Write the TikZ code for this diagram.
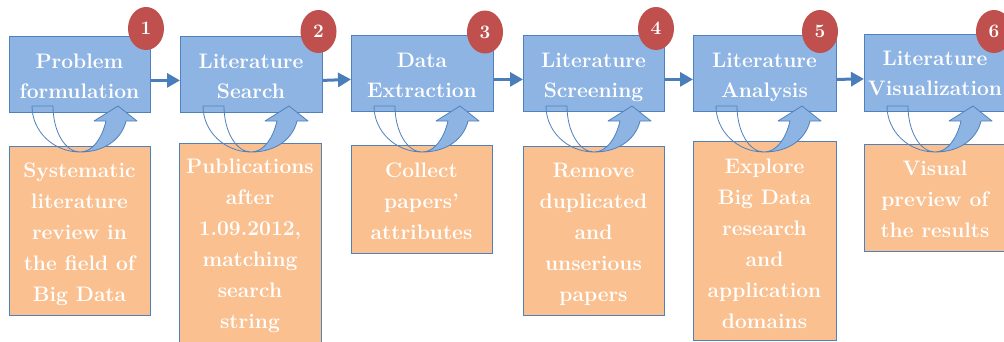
\documentclass[tikz,border=0pt]{standalone}
\usetikzlibrary{arrows.meta,shapes.geometric}
\definecolor{boxblue}{HTML}{8EB4E3}
\definecolor{edgeblue}{HTML}{4F81BD}
\definecolor{arrowblue}{HTML}{4A7EBB}
\definecolor{numred}{HTML}{C0504D}
\definecolor{boxorange}{HTML}{FAC090}
\tikzset{
 stagebox/.style={draw=edgeblue, fill=boxblue, line width=0.8pt, anchor=north west, inner sep=0pt},
 notebox/.style={draw=edgeblue, fill=boxorange, line width=0.8pt, anchor=north west, inner sep=0pt},
 stagetext/.style={anchor=north, inner sep=0pt, align=center, text=white, font=\fontsize{21}{30}\selectfont\bfseries},
 notetext/.style={anchor=north, inner sep=0pt, align=center, text=white, font=\fontsize{21}{31}\selectfont\bfseries},
 numbadge/.style={ellipse, fill=numred, minimum width=36pt, minimum height=43pt, inner sep=0pt, text=white, font=\fontsize{19}{19}\selectfont\bfseries},
 flowarrow/.style={draw=arrowblue, line width=3pt, -{Triangle[length=13pt,width=14pt]}},
 uturnline/.style={draw=edgeblue, line width=0.8pt},
 uturnfill/.style={draw=edgeblue, fill=boxblue, line width=0.8pt, line join=round}
}
\newcommand\uturnarrow[1]{%
 \draw[uturnline] ({#1+71},152) .. controls ({#1+44.5},152) and ({#1+23},131.4) .. ({#1+23},106) -- ({#1+44},106) .. controls ({#1+44},131.4) and ({#1+56.1},152) .. ({#1+71},152);
 \path[uturnfill] ({#1+71},152) .. controls ({#1+97},152) and ({#1+113},138) .. ({#1+117},121) -- ({#1+128},121) -- ({#1+109},106) -- ({#1+85},121) -- ({#1+97},121) .. controls ({#1+93},138) and ({#1+84},152) .. ({#1+71},152) -- cycle;
}
\begin{document}
\begin{tikzpicture}[x=1pt,y=-1pt]
\useasboundingbox (0,0) rectangle (1004,341);
\clip (0,0) rectangle (1004,341);
\fill[white] (0,0) rectangle (1004,341);
% stage boxes
\node[stagebox, minimum width=141pt, minimum height=76pt] (b1) at (9,36) {};
\node[stagebox, minimum width=142pt, minimum height=76pt] (b2) at (180,36) {};
\node[stagebox, minimum width=142pt, minimum height=76pt] (b3) at (351,35) {};
\node[stagebox, minimum width=141pt, minimum height=76pt] (b4) at (523,35) {};
\node[stagebox, minimum width=143pt, minimum height=76pt] (b5) at (693,35) {};
\node[stagebox, minimum width=142pt, minimum height=77pt] (b6) at (864,34) {};
% note boxes
\node[notebox, minimum width=141pt, minimum height=169pt] (o1) at (9,146) {};
\node[notebox, minimum width=142pt, minimum height=202pt] (o2) at (179,143) {};
\node[notebox, minimum width=141pt, minimum height=108pt] (o3) at (351,145) {};
\node[notebox, minimum width=141pt, minimum height=169pt] (o4) at (523,146) {};
\node[notebox, minimum width=143pt, minimum height=199pt] (o5) at (693,141) {};
\node[notebox, minimum width=142pt, minimum height=107pt] (o6) at (864,144) {};
% stage texts
\node[stagetext] (t1) at (79.5,53.5) {Problem\\formulation};
\node[stagetext] (t2) at (251,53.5) {Literature\\Search};
\node[stagetext] (t3) at (422,52.5) {Data\\Extraction};
\node[stagetext] (t4) at (593.5,52.5) {Literature\\Screening};
\node[stagetext] (t5) at (764.5,52.5) {Literature\\Analysis};
\node[stagetext] (t6) at (935,50.5) {Literature\\Visualization};
% note texts
\node[notetext] (p1) at (79.5,162.5) {Systematic\\literature\\review in\\the field of\\Big Data};
\node[notetext] (p2) at (250,158.5) {Publications\\after\\1.09.2012,\\matching\\search\\string};
\node[notetext] (p3) at (421.5,162.5) {Collect\\papers'\\attributes};
\node[notetext] (p4) at (593.5,162.5) {Remove\\duplicated\\and\\unserious\\papers};
\node[notetext] (p5) at (764.5,158.5) {Explore\\Big Data\\research\\and\\application\\domains};
\node[notetext] (p6) at (935,160.5) {Visual\\preview of\\the results};
% badges
\node[numbadge] (n1) at (146,28.5) {1};
\node[numbadge] (n2) at (318.5,31.5) {2};
\node[numbadge] (n3) at (485,32) {3};
\node[numbadge] (n4) at (656,28.5) {4};
\node[numbadge] (n5) at (820,31.5) {5};
\node[numbadge] (n6) at (994,31.5) {6};
% flow arrows
\draw[flowarrow] ([yshift=-6pt]b1.east) -- ([yshift=-6pt]b2.west);
\draw[flowarrow] ([yshift=-6pt]b2.east) -- ([yshift=-6pt]b3.west);
\draw[flowarrow] ([yshift=-6pt]b3.east) -- ([yshift=-6pt]b4.west);
\draw[flowarrow] ([yshift=-6pt]b4.east) -- ([yshift=-6pt]b5.west);
\draw[flowarrow] ([yshift=-6pt]b5.east) -- ([yshift=-6pt]b6.west);
% u-turn arrows
\uturnarrow{9}
\uturnarrow{180}
\uturnarrow{351}
\uturnarrow{523}
\uturnarrow{693}
\uturnarrow{864}
\end{tikzpicture}
\end{document}
